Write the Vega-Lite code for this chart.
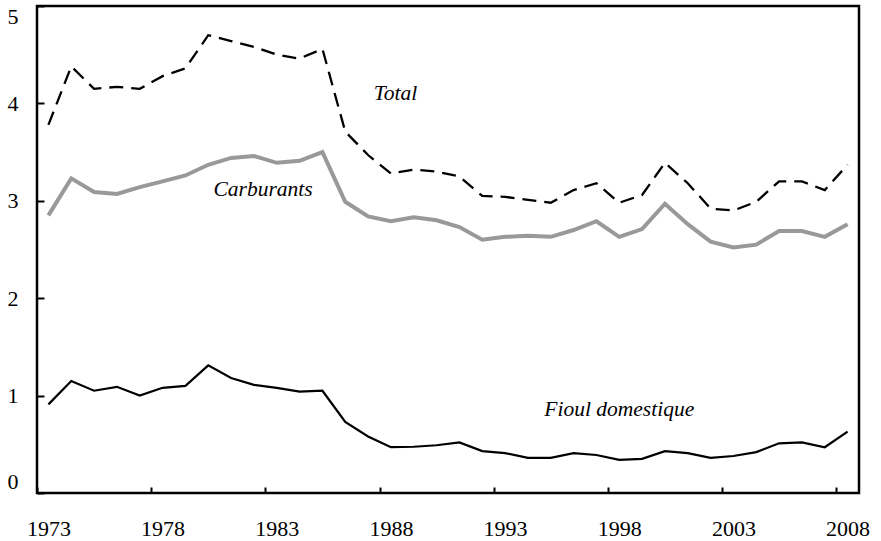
{
  "$schema": "https://vega.github.io/schema/vega-lite/v6.json",
  "width": 822,
  "height": 487,
  "autosize": {"type": "none"},
  "padding": {"left": 37, "top": 6, "right": 22, "bottom": 48},
  "background": "white",
  "config": {
    "view": {"stroke": "black", "strokeWidth": 2.5},
    "font": "Liberation Serif",
    "axis": {"domain": false, "grid": false, "labelFont": "Liberation Serif", "labelColor": "black", "tickColor": "black", "tickWidth": 2}
  },
  "datasets": {
    "series": [
      {"year": 1973, "series": "Total", "value": 3.78},
      {"year": 1974, "series": "Total", "value": 4.38},
      {"year": 1975, "series": "Total", "value": 4.15},
      {"year": 1976, "series": "Total", "value": 4.17},
      {"year": 1977, "series": "Total", "value": 4.15},
      {"year": 1978, "series": "Total", "value": 4.28},
      {"year": 1979, "series": "Total", "value": 4.36},
      {"year": 1980, "series": "Total", "value": 4.70},
      {"year": 1981, "series": "Total", "value": 4.64},
      {"year": 1982, "series": "Total", "value": 4.58},
      {"year": 1983, "series": "Total", "value": 4.50},
      {"year": 1984, "series": "Total", "value": 4.46},
      {"year": 1985, "series": "Total", "value": 4.56},
      {"year": 1986, "series": "Total", "value": 3.71},
      {"year": 1987, "series": "Total", "value": 3.47},
      {"year": 1988, "series": "Total", "value": 3.28},
      {"year": 1989, "series": "Total", "value": 3.32},
      {"year": 1990, "series": "Total", "value": 3.30},
      {"year": 1991, "series": "Total", "value": 3.25},
      {"year": 1992, "series": "Total", "value": 3.05},
      {"year": 1993, "series": "Total", "value": 3.04},
      {"year": 1994, "series": "Total", "value": 3.01},
      {"year": 1995, "series": "Total", "value": 2.98},
      {"year": 1996, "series": "Total", "value": 3.11},
      {"year": 1997, "series": "Total", "value": 3.18},
      {"year": 1998, "series": "Total", "value": 2.98},
      {"year": 1999, "series": "Total", "value": 3.06},
      {"year": 2000, "series": "Total", "value": 3.39},
      {"year": 2001, "series": "Total", "value": 3.18},
      {"year": 2002, "series": "Total", "value": 2.92},
      {"year": 2003, "series": "Total", "value": 2.90},
      {"year": 2004, "series": "Total", "value": 2.99},
      {"year": 2005, "series": "Total", "value": 3.20},
      {"year": 2006, "series": "Total", "value": 3.20},
      {"year": 2007, "series": "Total", "value": 3.11},
      {"year": 2008, "series": "Total", "value": 3.37},
      {"year": 1973, "series": "Carburants", "value": 2.85},
      {"year": 1974, "series": "Carburants", "value": 3.23},
      {"year": 1975, "series": "Carburants", "value": 3.09},
      {"year": 1976, "series": "Carburants", "value": 3.07},
      {"year": 1977, "series": "Carburants", "value": 3.14},
      {"year": 1978, "series": "Carburants", "value": 3.20},
      {"year": 1979, "series": "Carburants", "value": 3.26},
      {"year": 1980, "series": "Carburants", "value": 3.37},
      {"year": 1981, "series": "Carburants", "value": 3.44},
      {"year": 1982, "series": "Carburants", "value": 3.46},
      {"year": 1983, "series": "Carburants", "value": 3.39},
      {"year": 1984, "series": "Carburants", "value": 3.41},
      {"year": 1985, "series": "Carburants", "value": 3.50},
      {"year": 1986, "series": "Carburants", "value": 2.99},
      {"year": 1987, "series": "Carburants", "value": 2.84},
      {"year": 1988, "series": "Carburants", "value": 2.79},
      {"year": 1989, "series": "Carburants", "value": 2.83},
      {"year": 1990, "series": "Carburants", "value": 2.80},
      {"year": 1991, "series": "Carburants", "value": 2.73},
      {"year": 1992, "series": "Carburants", "value": 2.60},
      {"year": 1993, "series": "Carburants", "value": 2.63},
      {"year": 1994, "series": "Carburants", "value": 2.64},
      {"year": 1995, "series": "Carburants", "value": 2.63},
      {"year": 1996, "series": "Carburants", "value": 2.70},
      {"year": 1997, "series": "Carburants", "value": 2.79},
      {"year": 1998, "series": "Carburants", "value": 2.63},
      {"year": 1999, "series": "Carburants", "value": 2.71},
      {"year": 2000, "series": "Carburants", "value": 2.97},
      {"year": 2001, "series": "Carburants", "value": 2.76},
      {"year": 2002, "series": "Carburants", "value": 2.58},
      {"year": 2003, "series": "Carburants", "value": 2.52},
      {"year": 2004, "series": "Carburants", "value": 2.55},
      {"year": 2005, "series": "Carburants", "value": 2.69},
      {"year": 2006, "series": "Carburants", "value": 2.69},
      {"year": 2007, "series": "Carburants", "value": 2.63},
      {"year": 2008, "series": "Carburants", "value": 2.76},
      {"year": 1973, "series": "Fioul", "value": 0.91},
      {"year": 1974, "series": "Fioul", "value": 1.15},
      {"year": 1975, "series": "Fioul", "value": 1.05},
      {"year": 1976, "series": "Fioul", "value": 1.09},
      {"year": 1977, "series": "Fioul", "value": 1.00},
      {"year": 1978, "series": "Fioul", "value": 1.08},
      {"year": 1979, "series": "Fioul", "value": 1.10},
      {"year": 1980, "series": "Fioul", "value": 1.31},
      {"year": 1981, "series": "Fioul", "value": 1.18},
      {"year": 1982, "series": "Fioul", "value": 1.11},
      {"year": 1983, "series": "Fioul", "value": 1.08},
      {"year": 1984, "series": "Fioul", "value": 1.04},
      {"year": 1985, "series": "Fioul", "value": 1.05},
      {"year": 1986, "series": "Fioul", "value": 0.73},
      {"year": 1987, "series": "Fioul", "value": 0.58},
      {"year": 1988, "series": "Fioul", "value": 0.47},
      {"year": 1989, "series": "Fioul", "value": 0.475},
      {"year": 1990, "series": "Fioul", "value": 0.49},
      {"year": 1991, "series": "Fioul", "value": 0.52},
      {"year": 1992, "series": "Fioul", "value": 0.43},
      {"year": 1993, "series": "Fioul", "value": 0.41},
      {"year": 1994, "series": "Fioul", "value": 0.36},
      {"year": 1995, "series": "Fioul", "value": 0.36},
      {"year": 1996, "series": "Fioul", "value": 0.41},
      {"year": 1997, "series": "Fioul", "value": 0.39},
      {"year": 1998, "series": "Fioul", "value": 0.34},
      {"year": 1999, "series": "Fioul", "value": 0.35},
      {"year": 2000, "series": "Fioul", "value": 0.43},
      {"year": 2001, "series": "Fioul", "value": 0.41},
      {"year": 2002, "series": "Fioul", "value": 0.36},
      {"year": 2003, "series": "Fioul", "value": 0.38},
      {"year": 2004, "series": "Fioul", "value": 0.42},
      {"year": 2005, "series": "Fioul", "value": 0.51},
      {"year": 2006, "series": "Fioul", "value": 0.52},
      {"year": 2007, "series": "Fioul", "value": 0.47},
      {"year": 2008, "series": "Fioul", "value": 0.63}
    ],
    "labels": [
      {"x": 1988.2, "y": 4.10, "text": "Total"},
      {"x": 1982.4, "y": 3.11, "text": "Carburants"},
      {"x": 1998.0, "y": 0.85, "text": "Fioul domestique"}
    ]
  },
  "encoding": {
    "x": {
      "field": "year", "type": "quantitative",
      "scale": {"domain": [1972.5, 2008.5], "nice": false, "zero": false},
      "axis": {
        "title": null,
        "values": [1972.5, 1977.5, 1982.5, 1987.5, 1992.5, 1997.5, 2002.5, 2007.5],
        "labelExpr": "'' + (datum.value + 0.5)",
        "labelOffset": 11.4,
        "labelFlush": false,
        "labelOverlap": false,
        "labelFont": "Liberation Serif",
        "labelFontSize": 22,
        "tickSize": -6,
        "labelPadding": 31
      }
    },
    "y": {
      "field": "value", "type": "quantitative",
      "scale": {"domain": [0, 5], "nice": false},
      "axis": {
        "title": null,
        "values": [0, 1, 2, 3, 4, 5],
        "format": "d",
        "labelFont": "Liberation Serif",
        "labelFontSize": 22,
        "tickSize": -7,
        "labelPadding": 26,
        "labelFlush": true
      }
    }
  },
  "layer": [
    {
      "data": {"name": "series"},
      "transform": [{"filter": "datum.series === 'Total'"}],
      "mark": {"type": "line", "color": "black", "strokeWidth": 2.3, "strokeDash": [14, 8], "strokeJoin": "miter"}
    },
    {
      "data": {"name": "series"},
      "transform": [{"filter": "datum.series === 'Carburants'"}],
      "mark": {"type": "line", "color": "#999999", "strokeWidth": 4, "strokeJoin": "miter"}
    },
    {
      "data": {"name": "series"},
      "transform": [{"filter": "datum.series === 'Fioul'"}],
      "mark": {"type": "line", "color": "black", "strokeWidth": 2.2, "strokeJoin": "miter"}
    },
    {
      "data": {"name": "labels"},
      "mark": {"type": "text", "font": "Liberation Serif", "fontStyle": "italic", "fontSize": 21.5, "color": "black", "align": "center", "baseline": "middle"},
      "encoding": {
        "x": {"field": "x", "type": "quantitative"},
        "y": {"field": "y", "type": "quantitative"},
        "text": {"field": "text", "type": "nominal"}
      }
    }
  ]
}
